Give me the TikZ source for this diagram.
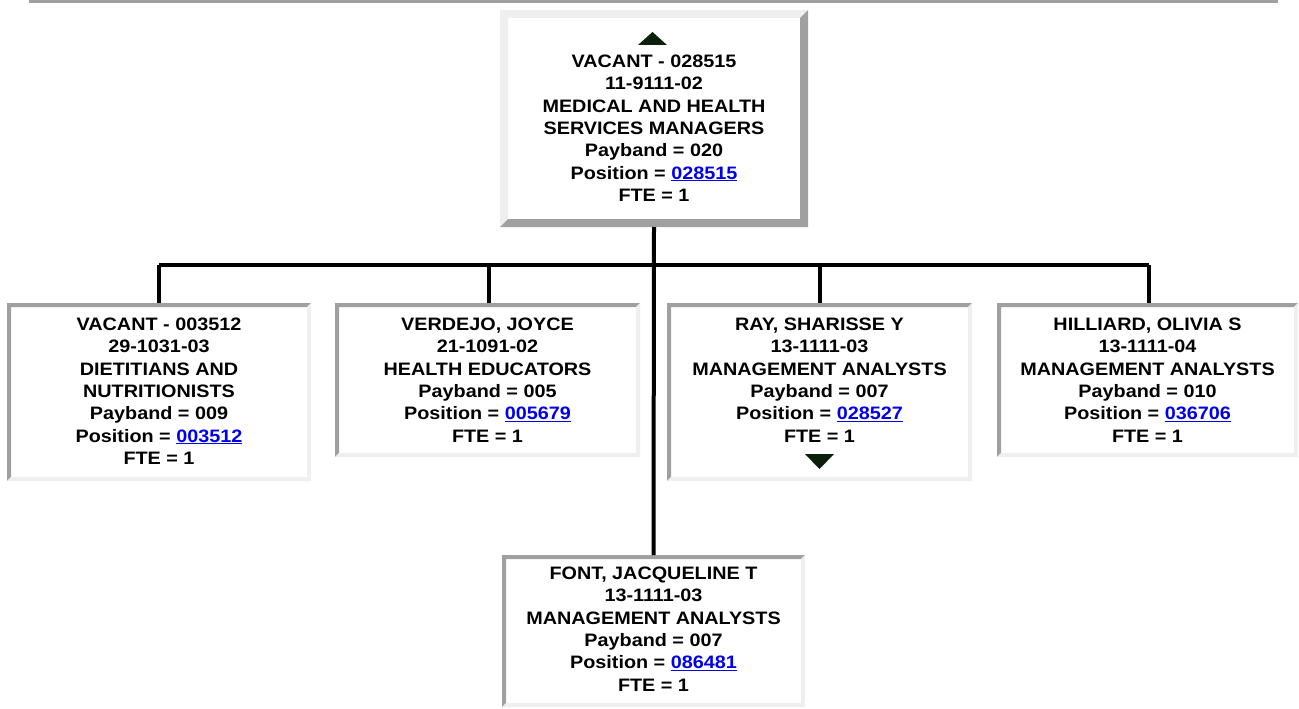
\documentclass[tikz,border=0pt]{standalone}
\usepackage{fontspec}
\setmainfont{Liberation Sans}[FakeStretch=1.1]
\definecolor{bdark}{HTML}{A0A0A0}
\definecolor{blight}{HTML}{EFEFEF}
\definecolor{linkblue}{HTML}{0000EE}
\definecolor{arrowgreen}{HTML}{0A200A}
\newcommand\inframe[2]{%
  \fill[bdark] (#1.north west) -- (#1.north east) -- ([shift={(-#2,#2)}]#1.north east) -- ([shift={(#2,#2)}]#1.north west) -- ([shift={(#2,-#2)}]#1.south west) -- (#1.south west) -- cycle;
  \fill[blight] (#1.south east) -- (#1.north east) -- ([shift={(-#2,#2)}]#1.north east) -- ([shift={(-#2,-#2)}]#1.south east) -- ([shift={(#2,-#2)}]#1.south west) -- (#1.south west) -- cycle;}
\newcommand\outframe[2]{%
  \fill[blight] (#1.north west) -- (#1.north east) -- ([shift={(-#2,#2)}]#1.north east) -- ([shift={(#2,#2)}]#1.north west) -- ([shift={(#2,-#2)}]#1.south west) -- (#1.south west) -- cycle;
  \fill[bdark] (#1.south east) -- (#1.north east) -- ([shift={(-#2,#2)}]#1.north east) -- ([shift={(-#2,-#2)}]#1.south east) -- ([shift={(#2,-#2)}]#1.south west) -- (#1.south west) -- cycle;}
\newcommand\lnk[1]{\textcolor{linkblue}{\underline{#1}}}
\tikzset{
  boxnode/.style={fill=white, inner sep=0, outer sep=0, anchor=north west},
  txt/.style={inner sep=0, outer sep=0, anchor=north, align=center, font=\fontsize{18}{22.3}\selectfont\bfseries},
  conn/.style={line width=4pt, black},
}
\begin{document}
\begin{tikzpicture}[x=1pt,y=-1pt]
\useasboundingbox (0,0) rectangle (1299,709);
% top rule
\fill[bdark] (29,0) rectangle (1278,3.5);
% boxes
\node[boxnode, minimum width=308, minimum height=217] (top) at (500,10) {};
\node[boxnode, minimum width=304, minimum height=178] (b1) at (7,303) {};
\node[boxnode, minimum width=305, minimum height=154] (b2) at (335,303) {};
\node[boxnode, minimum width=305, minimum height=178] (b3) at (667,303) {};
\node[boxnode, minimum width=301, minimum height=154] (b4) at (997,303) {};
\node[boxnode, minimum width=303, minimum height=152] (b5) at (502,555) {};
\outframe{top}{8}
\inframe{b1}{4}
\inframe{b2}{4}
\inframe{b3}{4}
\inframe{b4}{4}
\inframe{b5}{4}
% connectors
\coordinate (hl) at (159,265);
\coordinate (hr) at (1149,265);
\draw[conn] (top.south) -- (b5.north);
\draw[conn] (hl) -- (hr);
\draw[conn] (hl) -- (hl |- b1.north);
\draw[conn] (489,265) -- (489,303);
\draw[conn] (819.5,265) -- (819.5,303);
\draw[conn] (hr) -- (hr |- b4.north);
% arrows
\fill[arrowgreen] (638,45) -- (667,45) -- (652.5,32) -- cycle;
\fill[arrowgreen] (805,454) -- (834,454) -- (819.5,469) -- cycle;
% texts
\node[txt] (t0) at (654,55) {VACANT - 028515\\11-9111-02\\MEDICAL AND HEALTH\\SERVICES MANAGERS\\Payband = 020\\Position = \lnk{028515}\\FTE = 1};
\node[txt] (t1) at (159,318) {VACANT - 003512\\29-1031-03\\DIETITIANS AND\\NUTRITIONISTS\\Payband = 009\\Position = \lnk{003512}\\FTE = 1};
\node[txt] (t2) at (487.5,318) {VERDEJO, JOYCE\\21-1091-02\\HEALTH EDUCATORS\\Payband = 005\\Position = \lnk{005679}\\FTE = 1};
\node[txt] (t3) at (819.5,318) {RAY, SHARISSE Y\\13-1111-03\\MANAGEMENT ANALYSTS\\Payband = 007\\Position = \lnk{028527}\\FTE = 1};
\node[txt] (t4) at (1147.5,318) {HILLIARD, OLIVIA S\\13-1111-04\\MANAGEMENT ANALYSTS\\Payband = 010\\Position = \lnk{036706}\\FTE = 1};
\node[txt] (t5) at (653.5,567) {FONT, JACQUELINE T\\13-1111-03\\MANAGEMENT ANALYSTS\\Payband = 007\\Position = \lnk{086481}\\FTE = 1};
\end{tikzpicture}
\end{document}
